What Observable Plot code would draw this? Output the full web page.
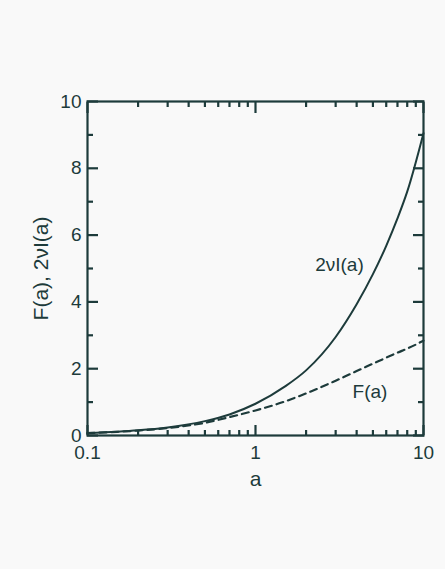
<!DOCTYPE html>
<html>
<head>
<meta charset="utf-8">
<script src="https://cdn.jsdelivr.net/npm/d3@7"></script>
<script src="https://cdn.jsdelivr.net/npm/@observablehq/plot@0.6"></script>
<style>
  html, body { margin: 0; padding: 0; background: #f9f9f9; }
  #chart svg { display: block; }
  #chart svg text { font-size: 19px !important; font-family: "Liberation Sans", Arial, sans-serif; }
  #chart svg g[aria-label="x-axis label"] text,
  #chart svg g[aria-label="y-axis label"] text { font-size: 21px !important; }
</style>
</head>
<body>
<div id="chart"></div>
<script>
const aValues = [0.1, 0.15, 0.2, 0.3, 0.5, 0.7, 1, 1.5, 2, 3, 4, 5, 6, 7, 8, 10];
const nuIValues = [0.075, 0.115, 0.155, 0.24, 0.43, 0.63, 0.95, 1.47, 1.95, 2.95, 3.93, 4.83, 5.68, 6.5, 7.3, 9.05];
const fValues = [0.072, 0.11, 0.148, 0.225, 0.38, 0.55, 0.75, 1.02, 1.26, 1.64, 1.93, 2.15, 2.33, 2.48, 2.6, 2.84];
const xMajor = [0.1, 1, 10];
const xMinor = [0.2,0.3,0.4,0.5,0.6,0.7,0.8,0.9,2,3,4,5,6,7,8,9];
const yMajor = [0, 2, 4, 6, 8, 10];
const yMinor = [1, 3, 5, 7, 9];
const labels = [
  {a: 3.16, v: 5.1, text: "2νI(a)"},
  {a: 4.8, v: 1.3, text: "F(a)"}
];

const ink = "#1d3b3b";
const nu = aValues.map((a, i) => ({a, v: nuIValues[i]}));
const F = aValues.map((a, i) => ({a, v: fValues[i]}));
const font = "Liberation Sans, Arial, sans-serif";
const none = () => "";

const chart = Plot.plot({
  width: 445,
  height: 569,
  marginLeft: 87,
  marginRight: 22,
  marginTop: 101,
  marginBottom: 134,
  style: {background: "transparent", fontFamily: font, fontSize: "19px", color: ink},
  x: {type: "log", domain: [0.1, 10]},
  y: {domain: [0, 10]},
  marks: [
    Plot.line(nu, {x: "a", y: "v", stroke: ink, strokeWidth: 2, curve: "monotone-x"}),
    Plot.line(F, {x: "a", y: "v", stroke: ink, strokeWidth: 2.2, strokeDasharray: "7,5", curve: "monotone-x"}),
    Plot.text(labels, {x: "a", y: "v", text: "text", fill: ink, fontSize: 19, textAnchor: "middle"}),
    Plot.axisX(xMajor, {anchor: "bottom", tickSize: 0, tickPadding: 10, tickFormat: d => String(d), fontSize: 19, label: "a", labelAnchor: "center", labelArrow: "none", labelOffset: 50, color: ink}),
    Plot.axisX(xMajor, {anchor: "bottom", tickSize: -10, tickFormat: none, strokeWidth: 2.2, strokeOpacity: 1, label: null, stroke: ink}),
    Plot.axisX(xMinor, {anchor: "bottom", tickSize: -5, tickFormat: none, strokeWidth: 2.2, strokeOpacity: 1, label: null, stroke: ink}),
    Plot.axisX(xMajor, {anchor: "top", tickSize: -11, tickFormat: none, strokeWidth: 2.2, strokeOpacity: 1, label: null, stroke: ink}),
    Plot.axisX(xMinor, {anchor: "top", tickSize: -5, tickFormat: none, strokeWidth: 2.2, strokeOpacity: 1, label: null, stroke: ink}),
    Plot.axisY(yMajor, {anchor: "left", tickSize: 0, tickPadding: 6, tickFormat: d => String(d), fontSize: 19, label: "F(a), 2νI(a)", labelAnchor: "center", labelArrow: "none", labelOffset: 54, color: ink}),
    Plot.axisY(yMajor, {anchor: "left", tickSize: -11, tickFormat: none, strokeWidth: 2.2, strokeOpacity: 1, label: null, stroke: ink}),
    Plot.axisY(yMinor, {anchor: "left", tickSize: -6, tickFormat: none, strokeWidth: 2.2, strokeOpacity: 1, label: null, stroke: ink}),
    Plot.axisY(yMajor, {anchor: "right", tickSize: -11, tickFormat: none, strokeWidth: 2.2, strokeOpacity: 1, label: null, stroke: ink}),
    Plot.axisY(yMinor, {anchor: "right", tickSize: -6, tickFormat: none, strokeWidth: 2.2, strokeOpacity: 1, label: null, stroke: ink}),
    Plot.frame({stroke: ink, strokeWidth: 2.2})
  ]
});
document.getElementById("chart").appendChild(chart);
</script>
</body>
</html>
